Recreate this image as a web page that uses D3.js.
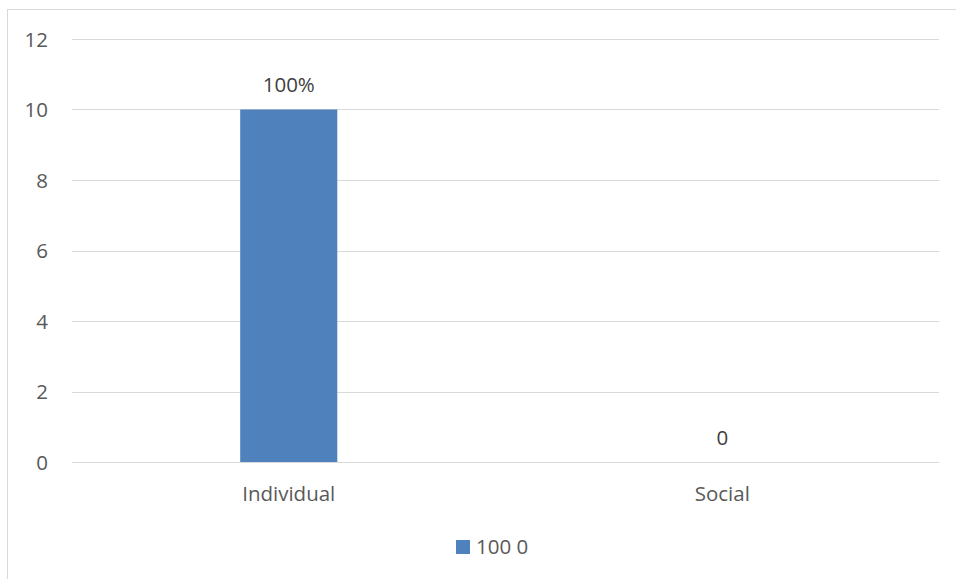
<!DOCTYPE html>
<html><head><meta charset="utf-8">
<script src="https://cdn.jsdelivr.net/npm/d3@7"></script>
<style>body{margin:0;background:#fff;} svg{display:block;} svg text{font-family:"Open Sans",sans-serif;font-size:20.5px;}</style>
</head><body>
<script>
const categories = ["Individual", "Social"];
const values = [10, 0];
const valueLabels = ["100%", "0"];
const seriesName = "100 0";
const yTicks = [0, 2, 4, 6, 8, 10, 12];

const W = 956, H = 579;
const svg = d3.select("body").append("svg").attr("width", W).attr("height", H);
svg.append("rect").attr("x", 7.5).attr("y", 9.5).attr("width", W + 10).attr("height", H + 10)
  .attr("fill", "#fff").attr("stroke", "#d9d9d9").attr("stroke-width", 1);

const x = d3.scaleBand().domain(categories).range([72, 939]).paddingInner(0.776).paddingOuter(0.388);
const y = d3.scaleLinear().domain([0, 12]).range([462, 39]);

const grid = svg.append("g");
grid.selectAll("line").data(yTicks).join("line")
  .attr("x1", 72).attr("x2", 939)
  .attr("y1", d => Math.round(y(d)) + 0.5).attr("y2", d => Math.round(y(d)) + 0.5)
  .attr("stroke", "#d9d9d9").attr("stroke-width", 1);

const yAxis = svg.append("g").attr("transform", "translate(48,0)")
  .call(d3.axisLeft(y).tickValues(yTicks).tickSize(0).tickPadding(0));
yAxis.attr("font-family", null).attr("font-size", null);
yAxis.select(".domain").remove();
yAxis.selectAll("text").attr("fill", "#595959").attr("dy", "0.35em");

svg.selectAll("rect.bar").data(values).join("rect").attr("class", "bar")
  .attr("x", (d, i) => x(categories[i])).attr("width", x.bandwidth())
  .attr("y", d => y(d)).attr("height", d => y(0) - y(d))
  .attr("fill", "#4f81bd");

svg.selectAll("text.vl").data(values).join("text").attr("class", "vl")
  .attr("x", (d, i) => x(categories[i]) + x.bandwidth() / 2)
  .attr("y", d => y(d) - 17.5)
  .attr("text-anchor", "middle").attr("fill", "#404040")
  .text((d, i) => valueLabels[i]);

const xAxis = svg.append("g").attr("transform", "translate(0,462)")
  .call(d3.axisBottom(x).tickSize(0).tickPadding(0));
xAxis.attr("font-family", null).attr("font-size", null);
xAxis.select(".domain").remove();
xAxis.selectAll("text").attr("dy", null).attr("y", 39).attr("fill", "#595959");

const lg = svg.append("g");
lg.append("rect").attr("x", 456).attr("y", 540).attr("width", 14).attr("height", 14).attr("fill", "#4f81bd");
lg.append("text").attr("x", 476).attr("y", 554).attr("fill", "#595959").text(seriesName);
</script>
</body></html>
